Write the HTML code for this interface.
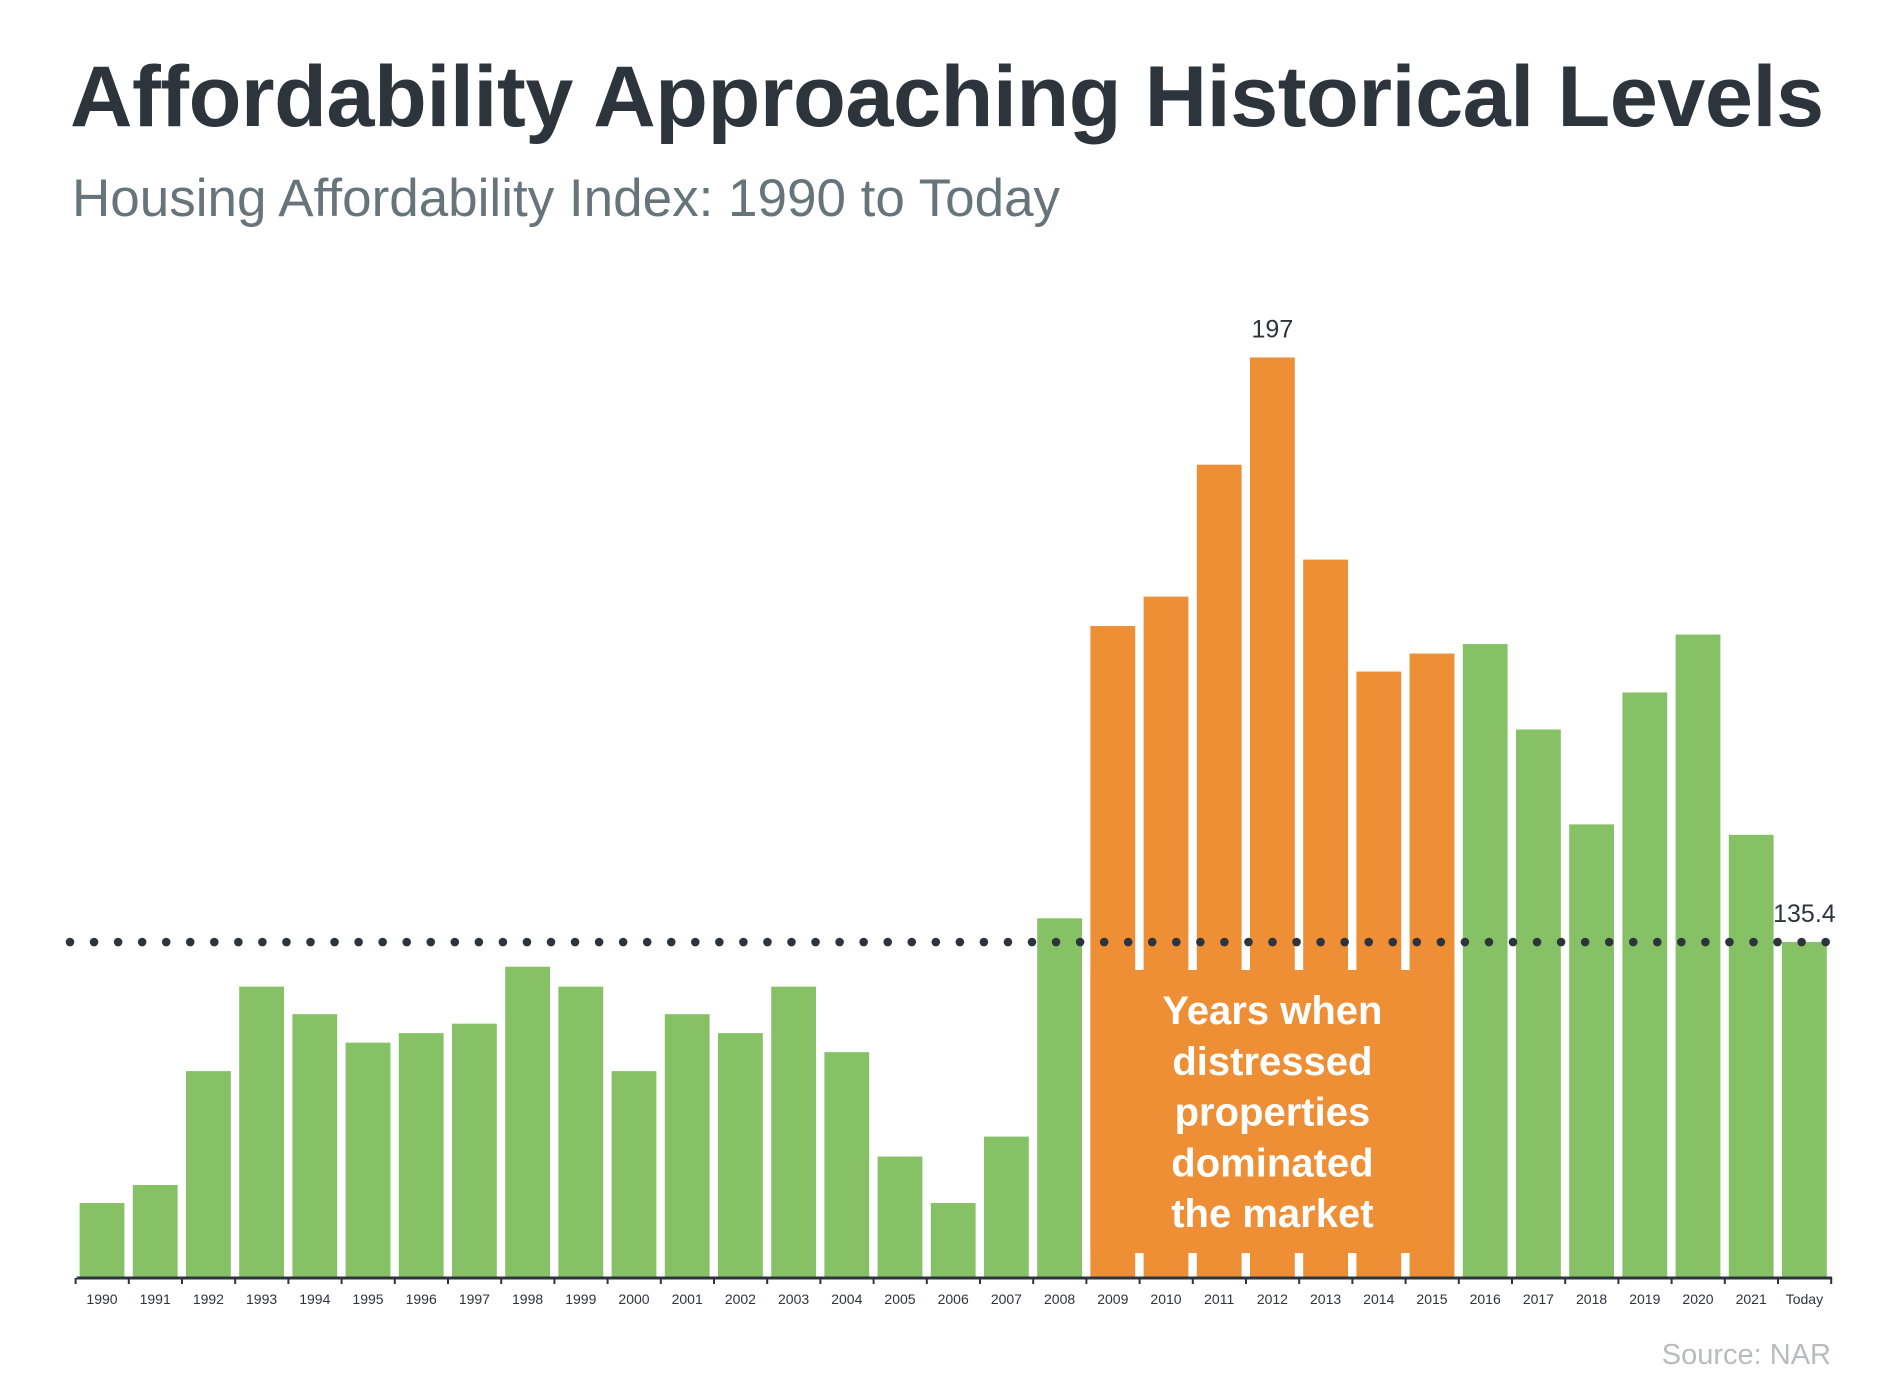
<!DOCTYPE html>
<html><head><meta charset="utf-8"><style>
html,body{margin:0;padding:0;background:#fff;}
body{width:1890px;height:1392px;position:relative;overflow:hidden;font-family:"Liberation Sans",Arial,sans-serif;}
#title{position:absolute;left:70px;top:48px;font-size:86.5px;font-weight:bold;color:#2e343c;white-space:nowrap;letter-spacing:-0.5px;}
#subtitle{position:absolute;left:72px;top:168px;font-size:53px;color:#67757a;white-space:nowrap;}
svg{position:absolute;left:0;top:0;}
</style></head><body>
<div id="title">Affordability Approaching Historical Levels</div>
<div id="subtitle">Housing Affordability Index: 1990 to Today</div>
<svg id="chart" width="1890" height="1392"></svg>
<script>
const categories = ["1990","1991","1992","1993","1994","1995","1996","1997","1998","1999","2000","2001","2002","2003","2004","2005","2006","2007","2008","2009","2010","2011","2012","2013","2014","2015","2016","2017","2018","2019","2020","2021","Today"];
const values = [107.9,109.8,121.8,130.7,127.8,124.8,125.8,126.8,132.8,130.7,121.8,127.8,125.8,130.7,123.8,112.8,107.9,114.9,137.9,168.7,171.8,185.7,197,175.7,163.9,165.8,166.8,157.8,147.8,161.7,167.8,146.7,135.4];
const distressed = ["2009","2010","2011","2012","2013","2014","2015"];
const referenceValue = [135.4];
const annotations = [["2012","197"],["Today","135.4"]];

const NS="http://www.w3.org/2000/svg";
const svg=document.getElementById('chart');
const baseY=1278, yMin=100, pxPerUnit=9.49, x0=79.6, pitch=53.2, bw=44.8;
function y(v){return baseY-(v-yMin)*pxPerUnit;}
function x(i){return x0+i*pitch;}
function mk(tag,attrs){const e=document.createElementNS(NS,tag);for(const k in attrs)e.setAttribute(k,attrs[k]);svg.appendChild(e);return e;}

const dIdx=distressed.map(d=>categories.indexOf(d));
const dMin=Math.min(...dIdx), dMax=Math.max(...dIdx);
const band=mk('rect',{x:x(dMin),y:970,width:x(dMax)+bw-x(dMin),height:1253-970,fill:'#ee8e35'});



categories.forEach((c,i)=>{
  const isD=distressed.includes(c);
  const r=mk('rect',{x:x(i),y:y(values[i]),width:bw,height:baseY-y(values[i]),fill:isD?'#ee8e35':'#86c166'});
  
  
  const t=mk('text',{x:x(i)+bw/2,y:1304,'text-anchor':'middle','font-size':14,fill:'#2e343c'});
  t.textContent=c;
  
  
  const tk=mk('line',{x1:x(i)-4,x2:x(i)-4,y1:baseY,y2:baseY+6,stroke:'#2e343c','stroke-width':2});
  
  
});
const tkEnd=mk('line',{x1:x(categories.length)-4,x2:x(categories.length)-4,y1:baseY,y2:baseY+6,stroke:'#2e343c','stroke-width':2});



const ax=mk('line',{x1:x0-3,x2:x(categories.length)-3,y1:baseY,y2:baseY,stroke:'#2e343c','stroke-width':3});



const ry=y(referenceValue[0]);
for(let k=0;k<74;k++){
  const d=mk('circle',{cx:70+k*24.05,cy:ry,r:4.3,fill:'#2e343c'});
  
  
}

annotations.forEach(([c,label])=>{
  const i=categories.indexOf(c);
  const v=values[i];
  const t=mk('text',{x:x(i)+bw/2,y:y(v)-20,'text-anchor':'middle','font-size':25,fill:'#2e343c'});
  t.textContent=label;
  
  
});

const lines=["Years when","distressed","properties","dominated","the market"];
const cx=(x(dMin)+x(dMax)+bw)/2;
lines.forEach((l,k)=>{
  const t=mk('text',{x:cx,y:1024+k*50.8,'text-anchor':'middle','font-size':40,'font-weight':'bold',fill:'#fff'});
  t.textContent=l;
  
  
});

const src=mk('text',{x:1831,y:1364,'text-anchor':'end','font-size':29,fill:'#b8bcbe'});
src.textContent='Source: NAR';


</script>
</body></html>
